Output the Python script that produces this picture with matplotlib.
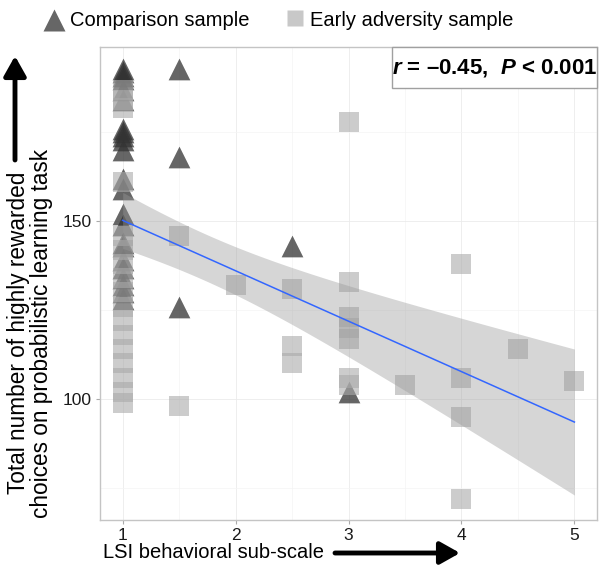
import numpy as np
import matplotlib.pyplot as plt
from matplotlib.lines import Line2D
from matplotlib.patches import Rectangle, FancyArrowPatch

plt.rcParams['font.family'] = ['Liberation Sans', 'DejaVu Sans']
plt.rcParams['mathtext.fontset'] = 'custom'
plt.rcParams['mathtext.rm'] = 'Liberation Sans:bold'
plt.rcParams['mathtext.it'] = 'Liberation Sans:italic:bold'

# comparison sample (triangles)
lsi_comparison = [1] * 23 + [1.5, 1.5, 1.5, 2.5, 3]
reward_comparison = [193, 192, 191, 190, 187, 184, 176, 175, 174, 173, 170, 162, 159,
                     152, 149, 144, 143, 139, 137, 134, 132, 130, 128,
                     193, 168, 126, 143, 102]

# early adversity sample (squares)
lsi_adversity = ([1] * 17 + [1.5, 1.5, 2, 2.5, 2.5, 2.5] + [3] * 7 + [3.5]
                 + [4] * 4 + [4.5, 5])
reward_adversity = [187, 184, 182, 161, 146, 142, 138, 134, 130, 126, 122, 118, 114,
                    110, 106, 102, 99,
                    146, 98, 132, 131, 115, 110,
                    178, 133, 123, 120, 117, 106, 104, 104,
                    138, 106, 95, 72, 114, 105]

x_ticks = [1, 2, 3, 4, 5]
y_ticks = [100, 150]

fig = plt.figure(figsize=(6.04, 5.77), dpi=100)
ax = fig.add_axes([100 / 604, 57 / 577, 497 / 604, 473 / 577])

ax.scatter(lsi_comparison, reward_comparison, marker='^', s=245, color='#333333',
           alpha=0.75, linewidths=0, zorder=2)
ax.scatter(lsi_adversity, reward_adversity, marker='s', s=207, color='#aaaaaa',
           alpha=0.6, linewidths=0, zorder=3)

# linear fit with 95% confidence band (like geom_smooth(method='lm'))
x_all = np.array(lsi_comparison + lsi_adversity, dtype=float)
y_all = np.array(reward_comparison + reward_adversity, dtype=float)
slope, intercept = np.polyfit(x_all, y_all, 1)
n = len(x_all)
resid = y_all - (intercept + slope * x_all)
s_err = np.sqrt(np.sum(resid ** 2) / (n - 2))
sxx = np.sum((x_all - x_all.mean()) ** 2)
t_crit = 1.998  # t quantile, 95%, df ~ 63
grid = np.linspace(x_all.min(), x_all.max(), 100)
fit = intercept + slope * grid
half = t_crit * s_err * np.sqrt(1 / n + (grid - x_all.mean()) ** 2 / sxx)
ax.fill_between(grid, fit - half, fit + half, color='#999999', alpha=0.4,
                linewidth=0, zorder=4)
ax.plot(grid, fit, color='#3366FF', lw=1.1, zorder=5)

# ggplot-style 5% expansion
xr = x_all.max() - x_all.min()
yr = y_all.max() - y_all.min()
ax.set_xlim(x_all.min() - 0.05 * xr, x_all.max() + 0.05 * xr)
ax.set_ylim(y_all.min() - 0.05 * yr, y_all.max() + 0.05 * yr)

ax.set_xticks(x_ticks)
ax.set_yticks(y_ticks)
ax.set_xticks([1.5, 2.5, 3.5, 4.5], minor=True)
ax.set_yticks([75, 125, 175], minor=True)
ax.set_axisbelow(True)
ax.grid(which='major', color='#ebebeb', lw=0.6)
ax.grid(which='minor', color='#f4f4f4', lw=0.5)
ax.tick_params(which='major', length=3, color='#aaaaaa', labelsize=12.5,
               labelcolor='#1a1a1a', pad=3)
ax.tick_params(which='minor', length=0)
for sp in ax.spines.values():
    sp.set_color('#c4c4c4')
    sp.set_linewidth(1)

# r / P annotation box
ax.add_patch(Rectangle((0.5875, 0.913), 0.4125, 0.087, transform=ax.transAxes,
                       facecolor='white', edgecolor='#a0a0a0', lw=1, zorder=6,
                       clip_on=False))
ax.text(0.794, 0.9556, '$r$ = –0.45,  $P$ < 0.001', transform=ax.transAxes,
        ha='center', va='center', fontsize=16, fontweight='bold', zorder=7)

# legend across the top
fig.add_artist(Line2D([54 / 604], [557 / 577], marker='^', markersize=16,
                      color='#666666', mec='none', transform=fig.transFigure))
fig.text(70 / 604, 551 / 577, 'Comparison sample', fontsize=14.5, va='baseline')
fig.add_artist(Line2D([294.5 / 604], [559.5 / 577], marker='s', markersize=11,
                      color='#c8c8c8', mec='none', transform=fig.transFigure))
fig.text(310 / 604, 551 / 577, 'Early adversity sample', fontsize=14.5, va='baseline')

# axis titles and arrows
fig.text(30 / 604, 244 / 577,
         'Total number of highly rewarded\nchoices on probabilistic learning task',
         rotation=90, ha='center', va='center', fontsize=16.3, linespacing=0.98)
fig.text(213 / 604, 24 / 577, 'LSI behavioral sub-scale', ha='center', va='center',
         fontsize=14.5)

fig.add_artist(FancyArrowPatch((15 / 604, 417 / 577), (15 / 604, 521 / 577),
                               transform=fig.transFigure,
                               arrowstyle='-|>,head_length=0.8,head_width=0.45',
                               mutation_scale=15, lw=3.5, color='black',
                               shrinkA=0, shrinkB=0))
fig.add_artist(FancyArrowPatch((335 / 604, 24 / 577), (460 / 604, 24 / 577),
                               transform=fig.transFigure,
                               arrowstyle='-|>,head_length=0.8,head_width=0.45',
                               mutation_scale=15, lw=3.5, color='black',
                               shrinkA=0, shrinkB=0))

fig.savefig('out.png', dpi=100)
